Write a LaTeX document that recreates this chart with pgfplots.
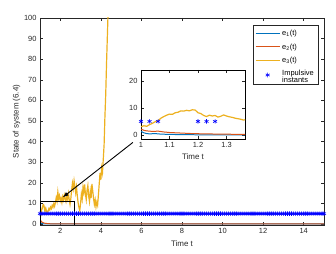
\documentclass[border=0pt]{standalone}
\usepackage{fontspec}
\setmainfont{Liberation Sans}
\usepackage{pgfplots}
\pgfplotsset{compat=1.18}
\usepackage{pgfplotstable}
\definecolor{mblue}{rgb}{0,0.447,0.741}
\definecolor{mred}{rgb}{0.85,0.325,0.098}
\definecolor{myel}{rgb}{0.929,0.694,0.125}
\definecolor{axgray}{rgb}{0.15,0.15,0.15}

\pgfplotstableread{
t e
1.00 1.3
1.01 0.8
1.02 0.5
1.03 0.4
1.05 0.5
1.07 0.3
1.10 0.2
1.15 0.1
1.25 0.02
2.00 0.0
15.0 0.0
}\eone

\pgfplotstableread{
t e
1.00 2.2
1.01 1.7
1.02 1.5
1.04 1.3
1.06 1.4
1.08 1.1
1.10 0.9
1.14 0.7
1.18 0.5
1.22 0.4
1.28 0.3
1.36 0.2
1.50 0.1
2.00 0.02
15.0 0.0
}\etwo

\pgfplotstableread{
t e
1.00 3.0
1.01 3.4
1.02 3.2
1.03 3.8
1.04 4.3
1.05 4.9
1.06 5.3
1.07 6.2
1.08 6.8
1.09 7.3
1.10 7.7
1.11 7.6
1.12 8.2
1.13 8.4
1.14 8.9
1.15 8.8
1.16 9.1
1.17 8.9
1.18 9.3
1.19 9.2
1.20 8.2
1.21 7.9
1.22 7.2
1.23 6.8
1.24 7.3
1.25 7.0
1.26 7.2
1.27 6.6
1.28 6.9
1.29 7.4
1.30 7.0
1.31 6.7
1.32 6.5
1.33 6.2
1.34 6.0
1.35 5.8
1.36 5.5
1.38 5.9
1.40 6.3
1.44 7.5
1.48 6.8
1.52 8.2
1.56 7.4
1.60 9.0
1.64 8.1
1.68 9.8
1.72 8.6
1.76 10.5
1.80 12.8
1.84 11.0
1.88 15.5
1.92 12.3
1.96 13.8
2.00 11.2
2.04 12.5
2.08 10.4
2.12 13.2
2.16 11.6
2.20 14.0
2.24 12.2
2.28 10.8
2.32 13.5
2.36 12.0
2.40 14.8
2.44 11.9
2.48 9.5
2.52 12.4
2.56 16.5
2.60 19.8
2.64 17.2
2.68 21.0
2.72 18.3
2.76 15.1
2.80 17.9
2.84 13.6
2.88 10.2
2.92 8.0
2.96 6.5
3.00 9.8
3.04 14.5
3.08 12.1
3.12 17.8
3.16 15.3
3.20 19.2
3.24 14.6
3.28 11.8
3.32 16.4
3.36 18.7
3.40 13.5
3.44 10.9
3.48 15.8
3.52 12.6
3.56 19.4
3.60 16.1
3.64 12.4
3.68 9.5
3.72 11.7
3.76 8.3
3.80 10.6
3.84 9.1
3.88 14.2
3.92 19.6
3.96 24.8
4.00 21.5
4.04 27.3
4.08 25.0
4.12 31.6
4.16 38.5
4.20 52.0
4.24 63.0
4.28 78.0
4.32 91.0
4.36 104.0
4.40 120.0
}\ethree

\pgfplotsset{
  mstyle/.style={
    scale only axis,
    tick align=inside,
    tick pos=both,
    major tick length=3bp,
    axis line style={axgray, line width=0.5pt},
    tick style={axgray, line width=0.5pt},
    tick label style={font=\fontsize{7.5}{8}\selectfont, text=axgray},
    label style={font=\fontsize{8}{9}\selectfont, text=axgray},
    /pgf/number format/assume math mode=true,
  },
  linelegend/.style={legend image code/.code={\draw[##1] plot coordinates {(0bp,0bp) (12bp,0bp) (24bp,0bp)};}},
  marklegend/.style={legend image code/.code={\draw[##1] plot coordinates {(12bp,0bp)};}},
}

\begin{document}
\begin{tikzpicture}
\path[use as bounding box] (0,0) rectangle (336bp,254bp);
\begin{axis}[mstyle,
  at={(40bp,29bp)}, anchor=south west,
  width=284bp, height=207bp,
  xmin=1, xmax=15, ymin=-0.5, ymax=100,
  xtick={2,4,6,8,10,12,14},
  ytick={0,10,20,30,40,50,60,70,80,90,100},
  xlabel={Time t},
  ylabel={State of system (6.4)},
  ylabel style={yshift=-3bp},
  legend style={at={(0.979,0.966)}, anchor=north east,
    font=\fontsize{7.5}{8}\selectfont, draw=axgray, line width=0.5pt,
    row sep=1.5bp, inner sep=2pt},
  legend cell align=left,
]
\addplot[mblue, line width=1pt, linelegend] table[x=t,y=e] {\eone};
\addlegendentry{e\textsubscript{1}(t)\rule[-2.5pt]{0pt}{9pt}}
\addplot[mred, line width=1pt, linelegend] table[x=t,y=e] {\etwo};
\addlegendentry{e\textsubscript{2}(t)\rule[-2.5pt]{0pt}{9pt}}
\addplot[myel, line width=1.2pt, linelegend] table[x=t,y=e] {\ethree};
\addlegendentry{e\textsubscript{3}(t)\rule[-2.5pt]{0pt}{9pt}}
\addplot[only marks, mark=asterisk, mark size=2.3pt, blue, mark options={line width=0.6pt}, marklegend]
coordinates {
(1.0,5)(1.1,5)(1.2,5)(1.3,5)(1.4,5)(1.5,5)(1.6,5)(1.7,5)(1.8,5)(1.9,5)
(2.0,5)(2.1,5)(2.2,5)(2.3,5)(2.4,5)(2.5,5)(2.6,5)(2.7,5)(2.8,5)(2.9,5)
(3.0,5)(3.1,5)(3.2,5)(3.3,5)(3.4,5)(3.5,5)(3.6,5)(3.7,5)(3.8,5)(3.9,5)
(4.0,5)(4.1,5)(4.2,5)(4.3,5)(4.4,5)(4.5,5)(4.6,5)(4.7,5)(4.8,5)(4.9,5)
(5.0,5)(5.1,5)(5.2,5)(5.3,5)(5.4,5)(5.5,5)(5.6,5)(5.7,5)(5.8,5)(5.9,5)
(6.0,5)(6.1,5)(6.2,5)(6.3,5)(6.4,5)(6.5,5)(6.6,5)(6.7,5)(6.8,5)(6.9,5)
(7.0,5)(7.1,5)(7.2,5)(7.3,5)(7.4,5)(7.5,5)(7.6,5)(7.7,5)(7.8,5)(7.9,5)
(8.0,5)(8.1,5)(8.2,5)(8.3,5)(8.4,5)(8.5,5)(8.6,5)(8.7,5)(8.8,5)(8.9,5)
(9.0,5)(9.1,5)(9.2,5)(9.3,5)(9.4,5)(9.5,5)(9.6,5)(9.7,5)(9.8,5)(9.9,5)
(10.0,5)(10.1,5)(10.2,5)(10.3,5)(10.4,5)(10.5,5)(10.6,5)(10.7,5)(10.8,5)(10.9,5)
(11.0,5)(11.1,5)(11.2,5)(11.3,5)(11.4,5)(11.5,5)(11.6,5)(11.7,5)(11.8,5)(11.9,5)
(12.0,5)(12.1,5)(12.2,5)(12.3,5)(12.4,5)(12.5,5)(12.6,5)(12.7,5)(12.8,5)(12.9,5)
(13.0,5)(13.1,5)(13.2,5)(13.3,5)(13.4,5)(13.5,5)(13.6,5)(13.7,5)(13.8,5)(13.9,5)
(14.0,5)(14.1,5)(14.2,5)(14.3,5)(14.4,5)(14.5,5)(14.6,5)(14.7,5)(14.8,5)(14.9,5)
(15.0,5)
};
\addlegendentry{\begin{tabular}{@{}l@{}}Impulsive\\[-1pt]instants\end{tabular}}
\draw[black, line width=1pt] (axis cs:1,-0.5) rectangle (axis cs:2.7,11);
\draw[black, line width=0.9pt, -latex] (axis cs:5.58,39.6) -- (axis cs:2.13,13);
\end{axis}

\begin{axis}[mstyle,
  at={(141bp,115bp)}, anchor=south west,
  width=104bp, height=69bp,
  xmin=1, xmax=1.365, ymin=-1.5, ymax=24,
  xtick={1,1.1,1.2,1.3},
  ytick={0,10,20},
  xlabel={Time t},
  xlabel style={yshift=1bp},
  axis background/.style={fill=white},
  axis line style={black, line width=0.8pt},
]
\addplot[mblue, line width=1pt] table[x=t,y=e] {\eone};
\addplot[mred, line width=1pt] table[x=t,y=e] {\etwo};
\addplot[myel, line width=1.2pt] table[x=t,y=e] {\ethree};
\addplot[only marks, mark=asterisk, mark size=2.3pt, blue, mark options={line width=0.6pt}]
coordinates {(1.0,5)(1.03,5)(1.06,5)(1.2,5)(1.23,5)(1.26,5)};
\end{axis}
\end{tikzpicture}
\end{document}
